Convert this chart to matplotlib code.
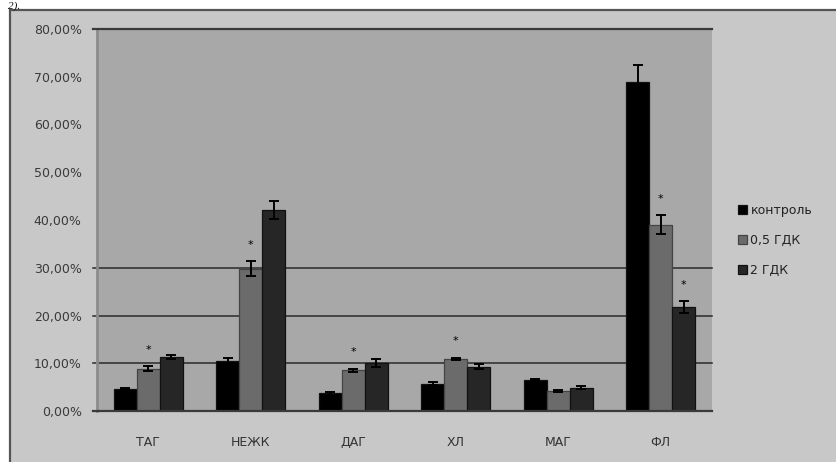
import matplotlib
matplotlib.use("Agg")
import matplotlib.pyplot as plt
from matplotlib.patches import Rectangle, Patch
import numpy as np

categories = ["ТАГ", "НЕЖК", "ДАГ", "ХЛ", "МАГ", "ФЛ"]
series_names = ["контроль", "0,5 ГДК", "2 ГДК"]

control = [4.6, 10.5, 3.7, 5.7, 6.5, 68.9]
gdk_05 = [8.9, 29.8, 8.5, 10.9, 4.2, 39.0]
gdk_2 = [11.3, 42.1, 10.0, 9.3, 4.9, 21.8]

err_control = [0.3, 0.7, 0.3, 0.3, 0.3, 3.6]
err_05 = [0.6, 1.6, 0.4, 0.3, 0.2, 2.0]
err_2 = [0.4, 1.9, 0.8, 0.6, 0.3, 1.2]

# significance marks: (category index, series index)
significant = [(0, 1), (1, 1), (2, 1), (3, 1), (5, 1), (5, 2)]

y_ticks = [0, 10, 20, 30, 40, 50, 60, 70, 80]
drawn_gridlines = [10, 20, 30]

colors = ["#000000", "#6b6b6b", "#262626"]
edges = ["#111111", "#444444", "#111111"]

W, H = 836, 462
fig = plt.figure(figsize=(W / 100, H / 100), dpi=100)
fig.patch.set_facecolor("white")

# chart frame
fig.patches.append(Rectangle((10 / W, -0.05), 1.0, 1 - 10 / H + 0.05,
                             transform=fig.transFigure, facecolor="#c8c8c8",
                             edgecolor="#555555", linewidth=1.6, zorder=0))
fig.text(8 / W, 1 - 1 / H, "2).", fontsize=8, style="italic",
         family="Liberation Serif", va="top", ha="left", color="#111111")

ax = fig.add_axes([97 / W, 1 - 411 / H, (712 - 97) / W, (411 - 29) / H])
ax.set_facecolor("#a8a8a8")
ax.set_zorder(2)

x = np.arange(len(categories))
bw = 0.225
all_vals = [control, gdk_05, gdk_2]
all_errs = [err_control, err_05, err_2]
for i, (vals, errs) in enumerate(zip(all_vals, all_errs)):
    pos = x + (i - 1) * bw
    ax.bar(pos, vals, width=bw, color=colors[i], edgecolor=edges[i],
           linewidth=0.9, zorder=3, label=series_names[i])
    ax.errorbar(pos, vals, yerr=errs, fmt="none", ecolor="#000000",
                elinewidth=1.4, capsize=3.5, capthick=1.4, zorder=4)

for ci, si in significant:
    top = all_vals[si][ci] + all_errs[si][ci]
    ax.annotate("*", (x[ci] + (si - 1) * bw, top), xytext=(0, 8),
                textcoords="offset points", ha="center", va="bottom",
                fontsize=8, color="#000000", zorder=5)

ax.set_xlim(-0.5, len(categories) - 0.5)
ax.set_ylim(0, 80)
ax.set_yticks(y_ticks)
ax.set_yticklabels([f"{v:.2f}%".replace(".", ",") for v in y_ticks],
                   fontsize=9, color="#3a3a3a")
ax.tick_params(axis="y", length=0, pad=11)
ax.set_xticks(x)
ax.set_xticklabels(categories, fontsize=9, color="#333333")
ax.tick_params(axis="x", length=0, pad=18)

for s in ["top", "right", "bottom"]:
    ax.spines[s].set_visible(False)
ax.spines["left"].set_color("#8c8c8c")
ax.spines["left"].set_linewidth(2.0)

ext = -4 / (712 - 97)
for g in drawn_gridlines:
    ax.axhline(g, xmin=ext, xmax=1, color="#2a2a2a", linewidth=1.1,
               clip_on=False, zorder=2)
for g in (0, 80):
    ax.axhline(g, xmin=ext, xmax=1, color="#3a3a3a", linewidth=1.6,
               clip_on=False, zorder=5)

handles = [Patch(facecolor=c, edgecolor=e, linewidth=0.9)
           for c, e in zip(colors, edges)]
fig.legend(handles, series_names, loc="upper left",
           bbox_to_anchor=(733 / W, 1 - 199 / H), frameon=False,
           fontsize=9, handlelength=0.75, handleheight=0.75,
           handletextpad=0.25, labelspacing=1.35, borderaxespad=0,
           labelcolor="#222222")

fig.savefig("out.png", dpi=100, facecolor=fig.get_facecolor())
